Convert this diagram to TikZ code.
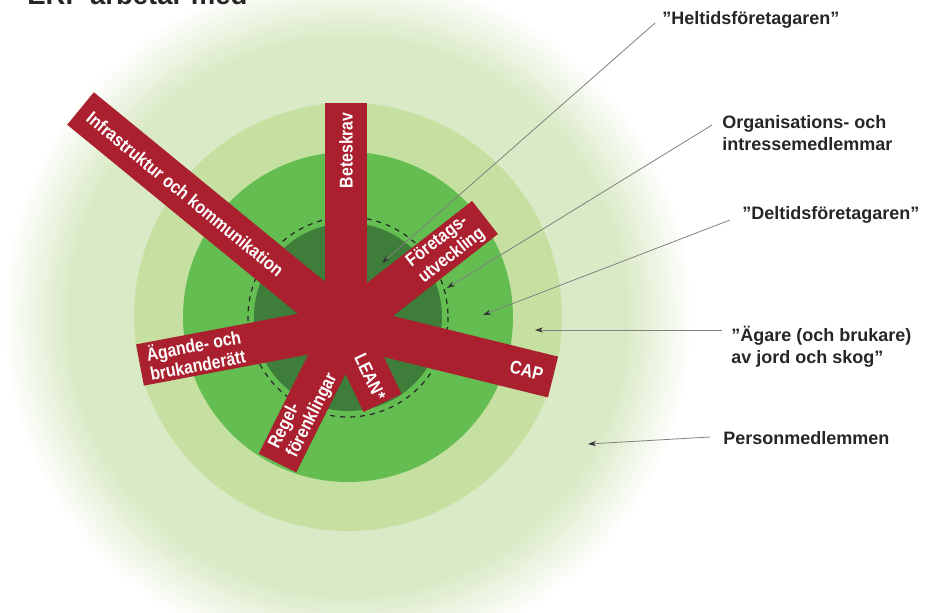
\documentclass[tikz,border=0pt]{standalone}
\usepackage{fontspec}
\newfontfamily\lblfont{Liberation Sans}
\newfontfamily\barfont{Liberation Sans}[FakeStretch=0.86]
\usetikzlibrary{arrows.meta}
\usetikzlibrary{calc}

\definecolor{glowgreen}{RGB}{218,234,198}
\definecolor{ringgreen}{RGB}{197,224,160}
\definecolor{midgreen}{RGB}{99,189,81}
\definecolor{darkgreen}{RGB}{62,125,58}
\definecolor{barred}{RGB}{170,32,47}

\begin{document}
\begin{tikzpicture}[x=0.5pt,y=-0.5pt,
  bar/.style={draw=barred,line width=21pt},
  bartext/.style={text=white,font=\barfont\bfseries\fontsize{9.2pt}{10pt}\selectfont,inner sep=0pt,align=left},
  lbl/.style={text=black!85,font=\lblfont\bfseries\fontsize{9pt}{11pt}\selectfont,inner sep=0pt,align=left,anchor=base west},
  leader/.style={draw=black!50,line width=0.4pt,-{Stealth[length=4pt,width=2.6pt,black!80]}},
  ringdash/.style={draw=black!85,line width=0.6pt,dash pattern=on 2.5pt off 2.5pt}]
\useasboundingbox (0,0) rectangle (926,612);
\clip (0,0) rectangle (926,612);

% rings (outer one fades to white)
\coordinate (o) at (348,317);
\foreach \i [evaluate=\i as \p using \i*5] in {0,...,20}
  \fill[glowgreen!\p!white] (o) circle ({346-\i*3.3});
\fill[ringgreen] (o) circle (214);
\fill[midgreen] (o) circle (165);
\fill[darkgreen] (o) circle (94);
\draw[ringdash] (o) circle (100);

% bars
\coordinate (c) at (346,326);
\coordinate (bete) at (346,103);
\coordinate (infra) at (80.5,108.5);
\coordinate (foret) at (485,217.5);
\coordinate (agande) at (140,365);
\coordinate (cap) at (553,377);
\coordinate (regel) at (277.5,463);
\coordinate (lean) at (382.5,403);
\draw[bar] (c) -- (bete); \draw[bar] (c) -- (infra); \draw[bar] (c) -- (foret);
\draw[bar] (c) -- (agande); \draw[bar] (c) -- (cap); \draw[bar] (c) -- (regel);
\draw[bar] (c) -- (lean);

\node[bartext,rotate=90,anchor=east] (betetxt) at ($(bete)!4.5pt!(c)$) {Beteskrav};
\node[bartext,rotate=-39.3,anchor=west] (infratxt) at ($(infra)!5.5pt!(c)$) {Infrastruktur och kommunikation};
\node[bartext,rotate=38,anchor=east] (forettxt) at ($(foret)!5pt!(c)$) {Företags-\\utveckling};
\node[bartext,rotate=10.7,anchor=west] (agandetxt) at ($(agande)!4pt!(c)$) {Ägande- och\\brukanderätt};
\node[bartext,rotate=-13.8,anchor=east] (captxt) at ($(cap)!5pt!(c)$) {CAP};
\node[bartext,rotate=63.4,anchor=west] (regeltxt) at ($(regel)!6pt!(c)$) {Regel-\\förenklingar};
\node[bartext,rotate=-64.6,anchor=east] (leantxt) at ($(lean)!2pt!(c)$) {LEAN*};

% labels
\node[lbl,font=\lblfont\bfseries\fontsize{13.75pt}{16pt}\selectfont] (title) at (27,4.5) {ERF arbetar med};
\node[lbl] (helt) at (662,24) {”Heltidsföretagaren”};
\node[lbl] (org) at (722,150) {Organisations- och\\intressemedlemmar};
\node[lbl] (delt) at (742,219) {”Deltidsföretagaren”};
\node[lbl] (agare) at (731,363) {”Ägare (och brukare)\\av jord och skog”};
\node[lbl] (pers) at (723,444) {Personmedlemmen};

\coordinate (helttip) at (382,263);
\coordinate (orgtip) at (447,288);
\coordinate (delttip) at (483,315);
\coordinate (agaretip) at (535,330);
\coordinate (perstip) at (588,444);
\draw[leader] ([xshift=-3.5pt,yshift=0.5pt]helt.base west) -- (helttip);
\draw[leader] ([xshift=-5pt,yshift=12.5pt]org.base west) -- (orgtip);
\draw[leader] ([xshift=-6pt,yshift=-0.5pt]delt.base west) -- (delttip);
\draw[leader] ([xshift=-4.5pt,yshift=16.5pt]agare.base west) -- (agaretip);
\draw[leader] ([xshift=-6.5pt,yshift=3.5pt]pers.base west) -- (perstip);
\end{tikzpicture}
\end{document}
